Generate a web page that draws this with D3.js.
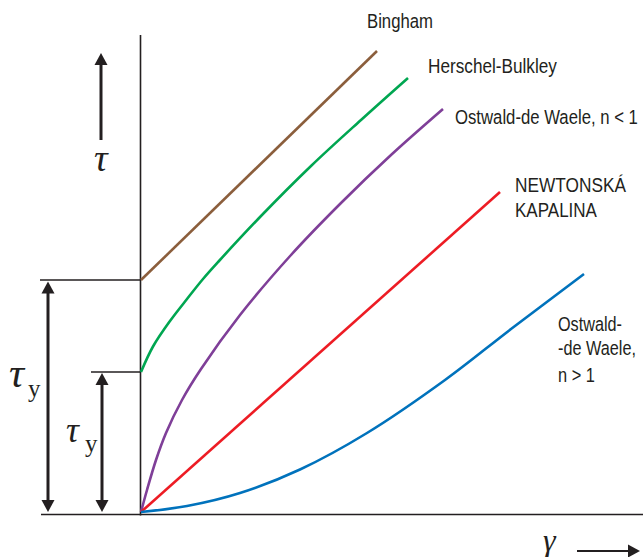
<!DOCTYPE html>
<html>
<head>
<meta charset="utf-8">
<script src="https://cdn.jsdelivr.net/npm/d3@7"></script>
<style>
  html, body { margin: 0; padding: 0; background: #fff; }
  svg { display: block; }
  .lbl { font-family: "Liberation Sans", Arial, sans-serif; font-size: 19.5px; fill: #231f20; }
  .greek { font-family: "Liberation Serif", "Times New Roman", serif; font-style: italic; fill: #231f20; }
  .sub { font-family: "Liberation Serif", "Times New Roman", serif; fill: #231f20; }
</style>
</head>
<body>
<svg id="chart" width="643" height="557"></svg>
<script>
// ---- data (shear rate γ vs. shear stress τ, arbitrary units) ----
const binghamX   = [0, 4.72];
const binghamY   = [4.64, 9.22];
const herschelX  = [0, 0.24, 0.58, 0.92, 1.24, 1.56, 2.4, 3.4, 4.4, 5.34];
const herschelY  = [2.8, 3.31, 3.82, 4.26, 4.66, 5.02, 5.92, 6.92, 7.84, 8.68];
const ostLowX    = [0, 0.12, 0.3, 0.5, 0.82, 1.2, 1.98, 3.0, 4.0, 5.0, 6.04];
const ostLowY    = [0, 0.44, 1.04, 1.58, 2.24, 2.86, 3.94, 5.14, 6.18, 7.14, 8.06];
const newtonX    = [0, 7.18];
const newtonY    = [0, 6.4];
const ostHighX   = [0, 0.92, 1.98, 3.18, 4.52, 6.08, 7.4, 8.86];
const ostHighY   = [0, 0.12, 0.38, 0.85, 1.58, 2.64, 3.66, 4.76];
const yieldStress = [4.64, 2.8];   // Bingham, Herschel-Bulkley

const seriesNames  = ["Bingham", "Herschel-Bulkley", "Ostwald-de Waele, n < 1", "NEWTONSKÁ KAPALINA", "Ostwald-de Waele, n > 1"];
const seriesColors = ["#8b5e3c", "#00a651", "#7f3f98", "#ed1c24", "#0072bc"];

// ---- drawing ----
const svg = d3.select("#chart");
const ink = "#231f20";
const x = d3.scaleLinear().domain([0, 10]).range([141, 641]);
const y = d3.scaleLinear().domain([0, 10]).range([512, 12]);

const series = [
  {xs: binghamX, ys: binghamY},
  {xs: herschelX, ys: herschelY},
  {xs: ostLowX, ys: ostLowY},
  {xs: newtonX, ys: newtonY},
  {xs: ostHighX, ys: ostHighY}
];

// axes (no ticks)
svg.append("line").attr("x1", x(0) - 0.5).attr("x2", x(0) - 0.5)
  .attr("y1", 35).attr("y2", y(0) + 3.5)
  .attr("stroke", ink).attr("stroke-width", 1.6);
svg.append("line").attr("x1", 41).attr("x2", 643)
  .attr("y1", y(0) + 2.5).attr("y2", y(0) + 2.5)
  .attr("stroke", ink).attr("stroke-width", 1.6);

// yield-stress reference lines
const ysLeft = [40, 91];
yieldStress.forEach((v, i) => {
  svg.append("line").attr("x1", ysLeft[i]).attr("x2", x(0))
    .attr("y1", y(v)).attr("y2", y(v))
    .attr("stroke", ink).attr("stroke-width", 1.4);
});

// curves
const line = d3.line().curve(d3.curveCatmullRom.alpha(0.5));
series.forEach((s, i) => {
  const pts = s.xs.map((v, j) => [x(v), y(s.ys[j])]);
  svg.append("path").attr("d", line(pts))
    .attr("fill", "none").attr("stroke", seriesColors[i])
    .attr("stroke-width", 2.6).attr("stroke-linecap", "butt");
});

// arrow helpers
function head(cx, cy, dir) { // dir: "up","down","right"
  const L = 12, W = 6.5;
  let p;
  if (dir === "up") p = [[cx, cy], [cx - W, cy + L], [cx + W, cy + L]];
  else if (dir === "down") p = [[cx, cy], [cx - W, cy - L], [cx + W, cy - L]];
  else p = [[cx, cy], [cx - L, cy - W], [cx - L, cy + W]];
  svg.append("polygon").attr("points", p.map(d => d.join(",")).join(" ")).attr("fill", ink);
}
function vDouble(cx, top, bottom) {
  svg.append("line").attr("x1", cx).attr("x2", cx).attr("y1", top + 10).attr("y2", bottom - 10)
    .attr("stroke", ink).attr("stroke-width", 3);
  head(cx, top, "up");
  head(cx, bottom, "down");
}
vDouble(48, y(yieldStress[0]) + 1.5, y(0));
vDouble(102, y(yieldStress[1]) + 1, y(0));

// τ arrow (up)
svg.append("line").attr("x1", 101).attr("x2", 101).attr("y1", 63).attr("y2", 140)
  .attr("stroke", ink).attr("stroke-width", 3);
head(101, 53, "up");
// γ arrow (right)
svg.append("line").attr("x1", 577).attr("x2", 630).attr("y1", 551).attr("y2", 551)
  .attr("stroke", ink).attr("stroke-width", 2);
head(640, 551, "right");

// Greek labels
svg.append("text").attr("class", "greek").attr("x", 94).attr("y", 171).attr("font-size", 38).text("τ");
svg.append("text").attr("class", "greek").attr("x", 9).attr("y", 387).attr("font-size", 42).text("τ");
svg.append("text").attr("class", "sub").attr("x", 28).attr("y", 397).attr("font-size", 25).text("y");
svg.append("text").attr("class", "greek").attr("x", 66).attr("y", 442).attr("font-size", 36).text("τ");
svg.append("text").attr("class", "sub").attr("x", 85).attr("y", 452).attr("font-size", 25).text("y");
svg.append("text").attr("class", "greek").attr("x", 543).attr("y", 551).attr("font-size", 32).text("γ");

// series labels (condensed horizontally to the reference widths)
const labelLines = [
  {t: "Bingham", x: 367, y: 28, w: 66},
  {t: "Herschel-Bulkley", x: 428, y: 73, w: 129},
  {t: "Ostwald-de Waele, n < 1", x: 455, y: 124, w: 183},
  {t: "NEWTONSKÁ", x: 515, y: 192, w: 111},
  {t: "KAPALINA", x: 515, y: 217, w: 82},
  {t: "Ostwald-", x: 558, y: 331, w: 64},
  {t: "-de Waele,", x: 558, y: 355, w: 78},
  {t: "n > 1", x: 558, y: 382, w: 37}
];
labelLines.forEach(d => {
  const t = svg.append("text").attr("class", "lbl").attr("x", 0).attr("y", 0).text(d.t);
  const natural = t.node().getComputedTextLength() || d.w;
  const k = d.w / natural;
  t.attr("transform", `translate(${d.x},${d.y}) scale(${k},1)`);
});
</script>
</body>
</html>
